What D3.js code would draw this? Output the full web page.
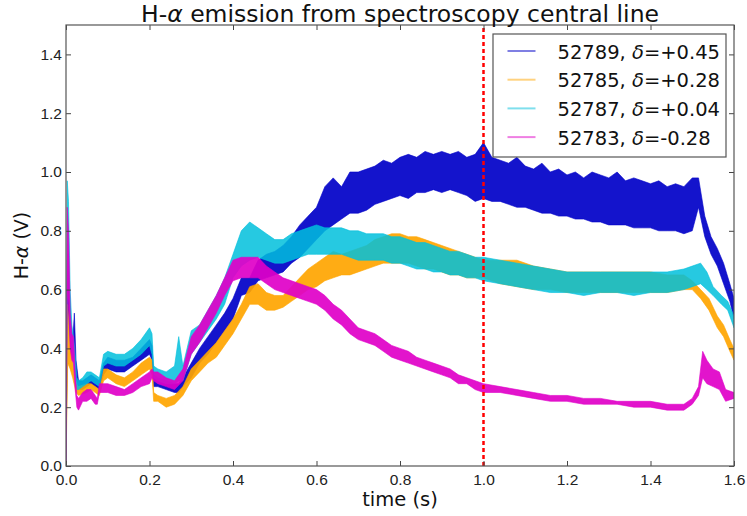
<!DOCTYPE html>
<html>
<head>
<meta charset="utf-8">
<title>H-alpha emission</title>
<script src="https://d3js.org/d3.v7.min.js"></script>
<style>
  body { margin: 0; background: #fff; }
  svg { display: block; font-family: "DejaVu Sans", sans-serif; }
  .tick text { font-size: 15.5px; fill: #222; }
</style>
</head>
<body>
<svg id="chart" width="747" height="516"></svg>
<script>
// ---- data: time (s), band low / high (V) ----
const blueT  = [0,0.004,0.008,0.012,0.016,0.02,0.024,0.03,0.04,0.05,0.06,0.07,0.08,0.09,0.1,0.12,0.14,0.16,0.18,0.2,0.206,0.21,0.22,0.24,0.26,0.27,0.28,0.3,0.32,0.34,0.36,0.38,0.4,0.42,0.44,0.46,0.48,0.5,0.52,0.54,0.56,0.58,0.6,0.62,0.64,0.66,0.68,0.7,0.72,0.74,0.76,0.78,0.8,0.82,0.84,0.86,0.88,0.9,0.92,0.94,0.96,0.98,1.0,1.02,1.04,1.06,1.08,1.1,1.12,1.14,1.16,1.18,1.2,1.22,1.24,1.26,1.28,1.3,1.32,1.34,1.36,1.38,1.4,1.42,1.44,1.46,1.48,1.5,1.515,1.53,1.545,1.56,1.575,1.59,1.6];
const blueLo = [0,0.55,0.45,0.38,0.36,0.38,0.30,0.26,0.26,0.27,0.28,0.27,0.26,0.31,0.33,0.32,0.32,0.34,0.36,0.38,0.36,0.27,0.27,0.26,0.25,0.25,0.27,0.30,0.35,0.38,0.42,0.46,0.50,0.58,0.59,0.63,0.64,0.65,0.66,0.69,0.71,0.74,0.77,0.80,0.82,0.84,0.86,0.86,0.87,0.89,0.90,0.91,0.92,0.91,0.93,0.93,0.94,0.93,0.94,0.93,0.92,0.90,0.91,0.90,0.90,0.89,0.88,0.88,0.87,0.86,0.86,0.85,0.85,0.84,0.84,0.83,0.83,0.82,0.82,0.82,0.81,0.81,0.81,0.80,0.80,0.80,0.79,0.80,0.88,0.78,0.72,0.68,0.62,0.56,0.50];
const blueHi = [0,0.72,0.60,0.48,0.42,0.52,0.36,0.29,0.29,0.30,0.31,0.30,0.29,0.35,0.37,0.36,0.36,0.37,0.40,0.43,0.41,0.31,0.30,0.29,0.28,0.28,0.30,0.35,0.40,0.44,0.48,0.52,0.57,0.64,0.64,0.70,0.72,0.73,0.75,0.78,0.82,0.85,0.88,0.95,0.98,0.95,1.00,1.00,1.01,1.02,1.04,1.03,1.05,1.06,1.05,1.07,1.06,1.07,1.06,1.07,1.05,1.06,1.10,1.05,1.04,1.03,1.05,1.02,1.01,1.03,1.00,1.01,0.99,1.00,0.98,1.00,0.99,0.98,1.00,0.97,0.98,0.97,0.96,0.97,0.95,0.96,0.95,0.98,0.98,0.85,0.78,0.74,0.69,0.62,0.57];

const orangeT  = [0,0.004,0.01,0.016,0.024,0.03,0.05,0.06,0.07,0.08,0.09,0.1,0.12,0.14,0.16,0.18,0.2,0.206,0.21,0.22,0.24,0.26,0.28,0.3,0.32,0.34,0.36,0.38,0.4,0.42,0.44,0.46,0.48,0.5,0.52,0.54,0.56,0.58,0.6,0.62,0.64,0.66,0.68,0.7,0.72,0.74,0.76,0.78,0.8,0.82,0.84,0.86,0.88,0.9,0.92,0.94,0.96,0.98,1.0,1.04,1.08,1.12,1.16,1.2,1.24,1.28,1.32,1.36,1.4,1.44,1.48,1.5,1.52,1.54,1.56,1.575,1.59,1.6];
const orangeLo = [0,0.35,0.33,0.30,0.25,0.24,0.25,0.26,0.25,0.24,0.29,0.30,0.28,0.27,0.29,0.31,0.33,0.31,0.22,0.22,0.20,0.21,0.24,0.29,0.32,0.35,0.37,0.41,0.45,0.50,0.55,0.55,0.53,0.53,0.54,0.56,0.58,0.60,0.61,0.63,0.64,0.65,0.65,0.66,0.67,0.68,0.69,0.69,0.69,0.69,0.68,0.67,0.67,0.66,0.65,0.65,0.64,0.64,0.64,0.62,0.61,0.60,0.60,0.59,0.59,0.59,0.59,0.59,0.59,0.59,0.60,0.60,0.57,0.53,0.47,0.44,0.39,0.36];
const orangeHi = [0,0.55,0.40,0.36,0.28,0.27,0.28,0.28,0.27,0.26,0.33,0.33,0.31,0.30,0.32,0.35,0.37,0.36,0.25,0.24,0.23,0.24,0.27,0.33,0.36,0.39,0.42,0.46,0.50,0.55,0.61,0.62,0.59,0.58,0.58,0.61,0.64,0.67,0.69,0.71,0.73,0.72,0.73,0.74,0.75,0.77,0.78,0.79,0.79,0.78,0.78,0.77,0.76,0.75,0.74,0.73,0.72,0.71,0.70,0.70,0.70,0.68,0.67,0.66,0.66,0.66,0.66,0.66,0.66,0.65,0.65,0.63,0.60,0.57,0.51,0.48,0.43,0.40];

const cyanT  = [0,0.003,0.006,0.01,0.014,0.018,0.022,0.026,0.03,0.04,0.05,0.06,0.07,0.08,0.09,0.1,0.12,0.14,0.16,0.18,0.2,0.206,0.21,0.22,0.24,0.26,0.27,0.28,0.3,0.32,0.34,0.36,0.38,0.4,0.42,0.44,0.46,0.48,0.5,0.52,0.54,0.56,0.58,0.6,0.62,0.64,0.66,0.68,0.7,0.72,0.74,0.76,0.78,0.8,0.82,0.84,0.86,0.88,0.9,0.92,0.94,0.96,0.98,1.0,1.04,1.08,1.12,1.16,1.2,1.24,1.28,1.32,1.36,1.4,1.44,1.48,1.5,1.52,1.535,1.55,1.57,1.585,1.6];
const cyanLo = [0,0.70,0.65,0.45,0.40,0.36,0.30,0.26,0.26,0.27,0.28,0.29,0.28,0.27,0.34,0.35,0.34,0.34,0.36,0.38,0.41,0.38,0.30,0.29,0.28,0.28,0.29,0.29,0.38,0.42,0.46,0.50,0.55,0.64,0.68,0.70,0.71,0.70,0.69,0.69,0.70,0.71,0.72,0.72,0.72,0.72,0.72,0.71,0.70,0.70,0.70,0.70,0.69,0.69,0.68,0.67,0.67,0.66,0.66,0.65,0.65,0.64,0.64,0.63,0.62,0.61,0.60,0.59,0.59,0.58,0.59,0.59,0.58,0.59,0.59,0.60,0.61,0.62,0.60,0.58,0.55,0.53,0.47];
const cyanHi = [0,0.97,0.90,0.60,0.48,0.44,0.38,0.30,0.29,0.30,0.32,0.32,0.31,0.30,0.38,0.39,0.38,0.38,0.40,0.43,0.47,0.45,0.34,0.33,0.32,0.34,0.44,0.34,0.46,0.48,0.53,0.58,0.64,0.72,0.80,0.83,0.81,0.79,0.77,0.77,0.79,0.80,0.81,0.82,0.81,0.81,0.81,0.80,0.80,0.79,0.79,0.79,0.78,0.78,0.77,0.76,0.76,0.75,0.74,0.73,0.73,0.72,0.71,0.71,0.70,0.69,0.68,0.67,0.66,0.66,0.66,0.66,0.66,0.66,0.66,0.67,0.68,0.69,0.66,0.61,0.58,0.56,0.51];

const magT  = [0,0.003,0.006,0.01,0.014,0.018,0.022,0.026,0.03,0.04,0.05,0.06,0.07,0.075,0.08,0.1,0.12,0.14,0.16,0.18,0.2,0.206,0.21,0.22,0.24,0.26,0.28,0.3,0.32,0.34,0.36,0.38,0.4,0.42,0.44,0.46,0.48,0.5,0.52,0.54,0.56,0.58,0.6,0.62,0.64,0.66,0.68,0.7,0.72,0.74,0.76,0.78,0.8,0.82,0.84,0.86,0.88,0.9,0.92,0.94,0.96,0.98,1.0,1.04,1.08,1.12,1.16,1.2,1.24,1.28,1.32,1.36,1.4,1.44,1.48,1.5,1.515,1.525,1.535,1.55,1.565,1.58,1.6];
const magLo = [0,0.60,0.55,0.40,0.36,0.35,0.26,0.20,0.19,0.22,0.22,0.23,0.21,0.21,0.25,0.25,0.24,0.24,0.25,0.27,0.28,0.30,0.29,0.28,0.27,0.26,0.29,0.38,0.42,0.47,0.52,0.58,0.63,0.64,0.64,0.64,0.62,0.60,0.59,0.58,0.57,0.56,0.55,0.53,0.50,0.48,0.45,0.43,0.42,0.41,0.39,0.37,0.36,0.35,0.34,0.33,0.32,0.31,0.30,0.28,0.28,0.26,0.25,0.25,0.24,0.23,0.22,0.22,0.21,0.21,0.21,0.20,0.20,0.19,0.19,0.21,0.24,0.30,0.28,0.27,0.26,0.22,0.23];
const magHi = [0,0.88,0.80,0.52,0.45,0.44,0.32,0.24,0.23,0.25,0.26,0.26,0.24,0.23,0.28,0.28,0.27,0.26,0.28,0.30,0.32,0.33,0.32,0.32,0.30,0.29,0.33,0.44,0.48,0.53,0.58,0.64,0.70,0.71,0.71,0.71,0.68,0.66,0.64,0.63,0.62,0.61,0.60,0.58,0.55,0.53,0.50,0.47,0.46,0.45,0.43,0.41,0.40,0.39,0.37,0.36,0.35,0.34,0.33,0.31,0.30,0.29,0.28,0.27,0.26,0.25,0.24,0.24,0.23,0.23,0.22,0.22,0.22,0.21,0.21,0.23,0.27,0.39,0.36,0.33,0.32,0.26,0.25];

const seriesNames  = ["52789", "52785", "52787", "52783"];
const seriesDeltas = ["+0.45", "+0.28", "+0.04", "-0.28"];
const seriesColors = ["#0000c8", "#ffa500", "#00c0dc", "#e000c8"];
const markerTime = 1.0;

const xTicks = [0, 0.2, 0.4, 0.6, 0.8, 1.0, 1.2, 1.4, 1.6];
const yTicks = [0, 0.2, 0.4, 0.6, 0.8, 1.0, 1.2, 1.4];

// ---- layout ----
const margin = {top: 25, right: 13, bottom: 50, left: 66};
const W = 747, H = 516;
const width = W - margin.left - margin.right,
      height = H - margin.top - margin.bottom;

const svg = d3.select("#chart");
const g = svg.append("g").attr("transform", `translate(${margin.left},${margin.top})`);

const x = d3.scaleLinear().domain([0, 1.6]).range([0, width]);
const y = d3.scaleLinear().domain([0, 1.5]).range([height, 0]);

const bands = [
  {t: blueT, lo: blueLo, hi: blueHi},
  {t: orangeT, lo: orangeLo, hi: orangeHi},
  {t: cyanT, lo: cyanLo, hi: cyanHi},
  {t: magT, lo: magLo, hi: magHi}
];

g.append("clipPath").attr("id", "clip")
  .append("rect").attr("width", width).attr("height", height);

const plot = g.append("g").attr("clip-path", "url(#clip)");

const area = d3.area()
  .x(d => x(d.t))
  .y0(d => y(d.lo))
  .y1(d => y(d.hi));

bands.forEach((b, i) => {
  const pts = b.t.map((t, k) => ({t: t, lo: b.lo[k], hi: b.hi[k]}));
  plot.append("path")
    .datum(pts)
    .attr("d", area)
    .attr("fill", seriesColors[i])
    .attr("fill-opacity", i === 2 ? 0.85 : 0.92)
    .attr("stroke", seriesColors[i])
    .attr("stroke-opacity", 0.6)
    .attr("stroke-width", 1);
});

// red dashed marker
plot.append("line")
  .attr("x1", x(markerTime)).attr("x2", x(markerTime))
  .attr("y1", height).attr("y2", 0)
  .attr("stroke", "#ff0000")
  .attr("stroke-width", 2.5)
  .attr("stroke-dasharray", "4,3");

// axes (ticks pointing inwards, on all four sides)
const fmt = d3.format(".1f");
g.append("g").attr("transform", `translate(0,${height})`)
  .call(d3.axisBottom(x).tickValues(xTicks).tickFormat(fmt).tickSizeInner(-5).tickSizeOuter(0).tickPadding(8));
g.append("g")
  .call(d3.axisLeft(y).tickValues(yTicks).tickFormat(fmt).tickSizeInner(-5).tickSizeOuter(0).tickPadding(4));
g.append("g")
  .call(d3.axisTop(x).tickValues(xTicks).tickFormat("").tickSizeInner(-5).tickSizeOuter(0));
g.append("g").attr("transform", `translate(${width},0)`)
  .call(d3.axisRight(y).tickValues(yTicks).tickFormat("").tickSizeInner(-5).tickSizeOuter(0));
g.selectAll(".domain").remove();
g.selectAll(".tick line").attr("stroke", "#444");

g.append("rect")
  .attr("width", width).attr("height", height)
  .attr("fill", "none").attr("stroke", "#555").attr("stroke-width", 1.2);

// title and labels
const title = svg.append("text")
  .attr("x", margin.left + width / 2).attr("y", 22)
  .attr("text-anchor", "middle").attr("font-size", 23.5).attr("fill", "#111");
title.append("tspan").text("H-");
title.append("tspan").attr("font-style", "italic").text("α");
title.append("tspan").text(" emission from spectroscopy central line");

svg.append("text")
  .attr("x", margin.left + width / 2).attr("y", 506)
  .attr("text-anchor", "middle").attr("font-size", 19.5).attr("fill", "#111")
  .text("time (s)");

const ylab = svg.append("text")
  .attr("transform", `translate(28,${margin.top + height / 2}) rotate(-90)`)
  .attr("text-anchor", "middle").attr("font-size", 19).attr("fill", "#111");
ylab.append("tspan").text("H-");
ylab.append("tspan").attr("font-style", "italic").text("α");
ylab.append("tspan").text(" (V)");

// legend
const leg = svg.append("g").attr("transform", "translate(493,34)");
leg.append("rect")
  .attr("width", 233).attr("height", 123)
  .attr("fill", "#fff").attr("stroke", "#555").attr("stroke-width", 1.2);
seriesNames.forEach((name, i) => {
  const cy = 17 + i * 28.7;
  leg.append("line")
    .attr("x1", 14.5).attr("x2", 42.5).attr("y1", cy).attr("y2", cy)
    .attr("stroke", seriesColors[i]).attr("stroke-opacity", 0.5).attr("stroke-width", 2);
  const t = leg.append("text")
    .attr("x", 64.5).attr("y", cy + 7.5)
    .attr("font-size", 19.5).attr("fill", "#111");
  t.append("tspan").text(name + ", ");
  t.append("tspan").attr("font-style", "italic").text("δ");
  t.append("tspan").text("=" + seriesDeltas[i]);
});
</script>
</body>
</html>
